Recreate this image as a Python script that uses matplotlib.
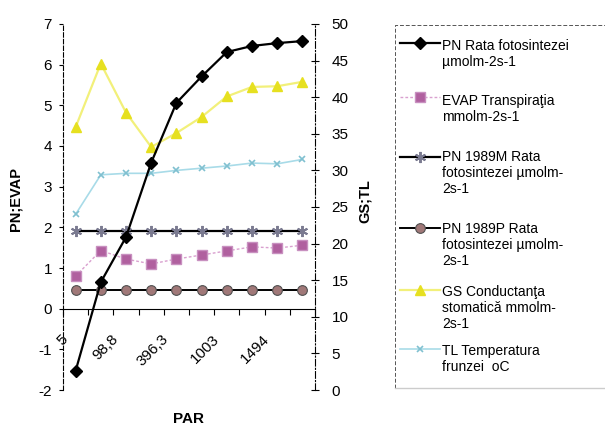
import numpy as np
from matplotlib import pyplot as plt
from matplotlib.lines import Line2D
import matplotlib.transforms as mtransforms

plt.rcParams['font.family'] = ['Liberation Sans', 'DejaVu Sans']
plt.rcParams['axes.unicode_minus'] = False

# PAR categories (only every other one is labelled on the axis)
par_labels = ['5', '', '98,8', '', '396,3', '', '1003', '', '1494', '']

pn = [-1.53, 0.65, 1.76, 3.59, 5.06, 5.71, 6.31, 6.46, 6.53, 6.58]
evap = [0.80, 1.43, 1.22, 1.10, 1.22, 1.32, 1.42, 1.52, 1.49, 1.56]
pn_1989m = [1.92, 1.92, 1.92, 1.92, 1.92, 1.92, 1.92, 1.92, 1.92, 1.92]
pn_1989p = [0.47, 0.47, 0.47, 0.47, 0.47, 0.47, 0.47, 0.47, 0.47, 0.47]
gs = [35.9, 44.6, 37.9, 33.2, 35.1, 37.3, 40.1, 41.4, 41.5, 42.1]
tl = [24.0, 29.4, 29.6, 29.6, 30.0, 30.3, 30.6, 31.0, 30.9, 31.5]

names = ['PN Rata fotosintezei\nµmolm-2s-1',
         'EVAP Transpiraţia\nmmolm-2s-1',
         'PN 1989M Rata\nfotosintezei µmolm-\n2s-1',
         'PN 1989P Rata\nfotosintezei µmolm-\n2s-1',
         'GS Conductanţa\nstomatică mmolm-\n2s-1',
         'TL Temperatura\nfrunzei  oC']

styles = [
    dict(color='black', lw=1.6, marker='D', ms=6, mfc='black', mec='black'),
    dict(color='#d9a0cf', lw=1.0, ls=(0, (2, 1.5)), marker='s', ms=7, mfc='#b0609f', mec='#c890c0'),
    dict(color='black', lw=1.6, marker=(6, 2, 0), ms=8, mfc='#9090a8', mec='#7a7a90', mew=1.4),
    dict(color='black', lw=1.4, marker='o', ms=7, mfc='#a07878', mec='#505050', mew=0.8),
    dict(color='#f2f07a', lw=1.6, marker='^', ms=7, mfc='#e6e020', mec='#e6e020'),
    dict(color='#a8dbe8', lw=1.2, marker='x', ms=5, mfc='#80c0d0', mec='#80c0d0', mew=1.2),
]

fig = plt.figure(figsize=(6.05, 4.25), dpi=100)
W, H = 605, 425
ax = fig.add_axes([63 / W, 1 - 390 / H, 252 / W, 366 / H])
ax2 = ax.twinx()

x = np.arange(len(par_labels))
ax.plot(x, pn, **styles[0], zorder=5)
ax.plot(x, evap, **styles[1], zorder=3)
ax.plot(x, pn_1989m, **styles[2], zorder=4)
ax.plot(x, pn_1989p, **styles[3], zorder=4)
ax2.plot(x, gs, **styles[4], zorder=2)
ax2.plot(x, tl, **styles[5], zorder=2)
ax.set_zorder(ax2.get_zorder() + 1)
ax.patch.set_visible(False)

ax.set_xlim(-0.5, len(par_labels) - 0.5)
ax.set_ylim(-2, 7)
ax2.set_ylim(0, 50)

# spines
ax.spines['top'].set_visible(False)
ax2.spines['top'].set_visible(False)
ax2.spines['left'].set_visible(False)
ax2.spines['bottom'].set_visible(False)
ax.spines['right'].set_visible(False)
ax.spines['left'].set_linestyle((0, (4, 2)))
ax.spines['left'].set_linewidth(0.8)
ax2.spines['right'].set_linestyle((0, (6, 2, 1, 2)))
ax2.spines['right'].set_linewidth(0.8)
ax.spines['bottom'].set_position(('data', 0))
ax.spines['bottom'].set_linewidth(0.8)

ax.set_yticks(np.arange(-2, 8, 1))
ax.tick_params(axis='y', labelsize=11, length=3, width=0.8, pad=5)
ax2.set_yticks(np.arange(0, 51, 5))
ax2.tick_params(axis='y', labelsize=11, length=6, width=0.8, direction='inout', pad=9)

ax.set_xticks(x[::2])
ax.set_xticklabels(par_labels[::2], rotation=45, ha='right', va='top', fontsize=11)
ax.set_xticks(np.arange(-0.5, len(par_labels), 1), minor=True)
ax.tick_params(axis='x', which='major', length=0, pad=17)
ax.tick_params(axis='x', which='minor', length=4, width=0.8)
offset = mtransforms.ScaledTranslation(-5 / 100, 0, fig.dpi_scale_trans)
for lab in ax.get_xticklabels():
    lab.set_transform(lab.get_transform() + offset)

ax.set_ylabel('PN;EVAP', fontsize=10.5, fontweight='bold')
ax.yaxis.set_label_coords(-0.159, 0.522)
ax2.set_ylabel('GS;TL', fontsize=10.5, fontweight='bold')
ax2.yaxis.set_label_coords(1.171, 0.516)
ax.set_xlabel('PAR', fontsize=11, fontweight='bold')
ax.xaxis.set_label_coords(0.5, -0.06)

# legend frame: top and left dashed, bottom faint, right edge runs off the page
fig.add_artist(Line2D([395 / W, 395 / W, 1.0], [1 - 388 / H, 1 - 25 / H, 1 - 25 / H],
                      transform=fig.transFigure, color='#555555', lw=0.7, ls=(0, (4, 2))))
fig.add_artist(Line2D([395 / W, 1.0], [1 - 388 / H, 1 - 388 / H],
                      transform=fig.transFigure, color='#cccccc', lw=1.0))
handle_y = [43, 97, 157, 228, 290, 349]
text_y = [47, 101.5, 158, 230, 293, 351.5]
for nm, st, hy, ty in zip(names, styles, handle_y, text_y):
    st2 = dict(st)
    st2['markevery'] = [1]
    fig.add_artist(Line2D([400 / W, 420 / W, 440 / W], [1 - hy / H] * 3,
                          transform=fig.transFigure, **st2))
    fig.text(442 / W, 1 - (ty - 8) / H, nm, fontsize=10, va='top', ha='left',
             linespacing=1.2)

fig.savefig('out.png', dpi=100)
